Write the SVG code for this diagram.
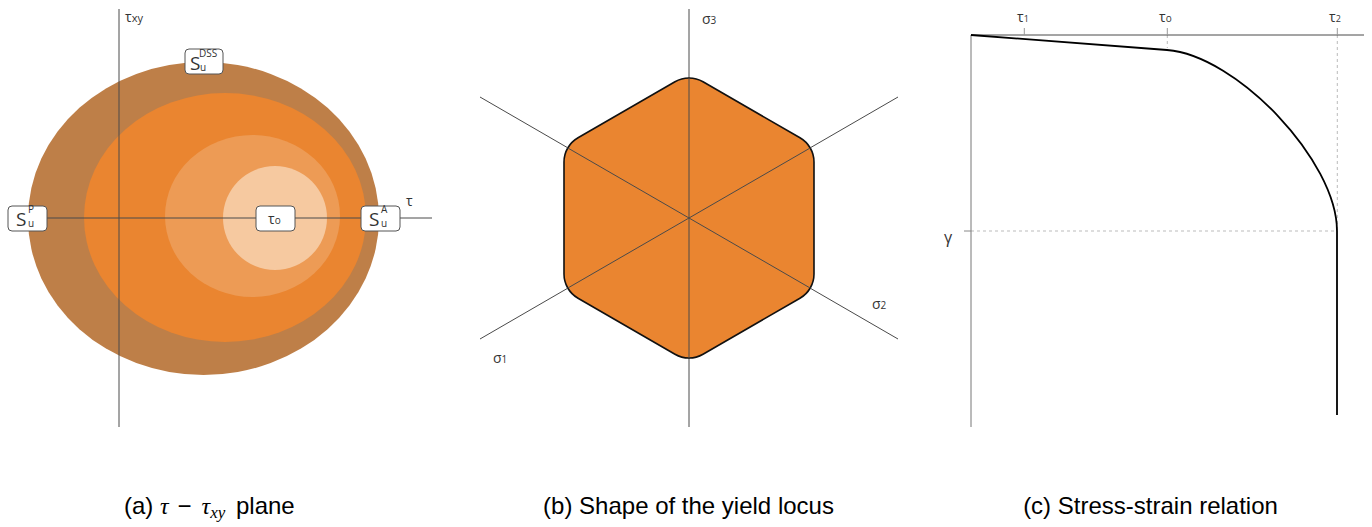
<svg xmlns="http://www.w3.org/2000/svg" width="1372" height="527" viewBox="0 0 1372 527">
<style>
.ax{stroke:#4a4a4a;stroke-width:1;fill:none}
.lbl{font-family:"Open Sans","DejaVu Sans",sans-serif;font-size:14px;fill:#333}
.S{font-family:"Open Sans","DejaVu Sans",sans-serif;font-size:19px;fill:#333}
.sm{font-family:"Open Sans","DejaVu Sans",sans-serif;font-size:10px;fill:#333}
.box{fill:#fff;stroke:#555;stroke-width:1}
.cap{font-family:"Liberation Sans",Arial,sans-serif;font-size:24px;fill:#000}
.math{font-family:"Liberation Serif","DejaVu Serif",serif;font-style:italic}
.dot{stroke:#bbb;stroke-width:1;stroke-dasharray:3 3;fill:none}
</style>
<rect width="1372" height="527" fill="#fff"/>
<!-- Panel a -->
<g id="panel-a">
<ellipse cx="203.5" cy="218.5" rx="175.5" ry="156.5" fill="#BE7F48"/>
<ellipse cx="225" cy="217.5" rx="141" ry="124.5" fill="#EA8530"/>
<ellipse cx="252.5" cy="216" rx="87.5" ry="81" fill="#ED9B55"/>
<ellipse cx="275" cy="218" rx="52" ry="52" fill="#F6C9A0"/>
</g>
<g id="connectors">
<line class="ax" x1="119" y1="9" x2="119" y2="427"/>
<line class="ax" x1="8" y1="218" x2="432" y2="218"/>
<line class="ax" x1="689" y1="9" x2="689" y2="427"/>
<line class="ax" x1="480" y1="97" x2="898" y2="339"/>
<line class="ax" x1="480" y1="339" x2="898" y2="97"/>
</g>
<g id="label-txy"><text class="lbl" x="125" y="22">τ<tspan font-size="11">xy</tspan></text></g>
<g id="label-t"><text class="lbl" x="406" y="206">τ</text></g>
<g id="node-SuP"><rect class="box" x="8" y="206" width="39" height="25" rx="4"/><text class="S" x="16" y="226">S</text><text class="sm" x="28" y="213">P</text><text class="sm" x="28" y="227">u</text></g>
<g id="node-t0"><rect class="box" x="256" y="206" width="39" height="25" rx="4"/><text class="lbl" x="268" y="224">τ<tspan font-size="10">o</tspan></text></g>
<g id="node-SuA"><rect class="box" x="361" y="206" width="39" height="25" rx="4"/><text class="S" x="369" y="226">S</text><text class="sm" x="381" y="213">A</text><text class="sm" x="381" y="227">u</text></g>
<g id="node-SuDSS"><rect class="box" x="185" y="49" width="38" height="25" rx="4"/><text class="S" x="190" y="70">S</text><text class="sm" x="199" y="57">DSS</text><text class="sm" x="200" y="71">u</text></g>
<!-- Panel b -->
<g id="yield-locus">
<path d="M 674.97 81.8 A 28 28 0 0 1 703.03 81.8 L 799.97 137.75 A 28 28 0 0 1 814 162.05 L 814 273.95 A 28 28 0 0 1 799.97 298.25 L 703.03 354.2 A 28 28 0 0 1 674.97 354.2 L 578.03 298.25 A 28 28 0 0 1 564 273.95 L 564 162.05 A 28 28 0 0 1 578.03 137.75 Z" fill="#EA8530" stroke="#111" stroke-width="1.6"/>
<line class="ax" x1="689" y1="78" x2="689" y2="358"/>
<line class="ax" x1="567" y1="147.5" x2="811" y2="288.5"/>
<line class="ax" x1="567" y1="288.5" x2="811" y2="147.5"/>
</g>
<g id="label-s3"><text class="lbl" x="702" y="24">σ<tspan font-size="10">3</tspan></text></g>
<g id="label-s2"><text class="lbl" x="872" y="309">σ<tspan font-size="10">2</tspan></text></g>
<g id="label-s1"><text class="lbl" x="493" y="363">σ<tspan font-size="10">1</tspan></text></g>
<!-- Panel c -->
<g id="panel-c">
<line class="dot" x1="1167.3" y1="35" x2="1167.3" y2="48"/>
<line class="dot" x1="1337.3" y1="35" x2="1337.3" y2="231"/>
<line class="dot" x1="971" y1="231" x2="1337" y2="231"/>
<line x1="971" y1="35" x2="971" y2="427" stroke="#777" stroke-width="1"/>
<line class="ax" x1="971" y1="35" x2="1364" y2="35"/>
<line x1="1024.3" y1="28" x2="1024.3" y2="35" stroke="#999" stroke-width="1"/>
<line x1="1167.3" y1="28" x2="1167.3" y2="35" stroke="#999" stroke-width="1"/>
<line x1="1337.3" y1="28" x2="1337.3" y2="35" stroke="#999" stroke-width="1"/>
<line x1="964" y1="231" x2="971" y2="231" stroke="#888" stroke-width="1"/>
<path d="M 971 35 L 1167 50 C 1237 55.4 1337 161 1337 231 L 1337 415" fill="none" stroke="#000" stroke-width="1.8"/>
</g>
<g id="label-tau1"><text class="lbl" x="1017" y="22">τ<tspan font-size="9">1</tspan></text></g>
<g id="label-tau0"><text class="lbl" x="1159" y="22">τ<tspan font-size="10">o</tspan></text></g>
<g id="label-tau2"><text class="lbl" x="1329" y="22">τ<tspan font-size="9">2</tspan></text></g>
<g id="label-gamma"><text class="lbl" x="944" y="243" font-size="16" style="font-size:16px">γ</text></g>
<!-- Captions -->
<g id="captions">
<text class="cap" x="124" y="514">(a) <tspan class="math">τ</tspan><tspan dx="9">−</tspan><tspan class="math" dx="10">τ</tspan><tspan class="math" font-size="17" dy="4">xy</tspan><tspan dy="-4" dx="4"> plane</tspan></text>
<text class="cap" x="688.5" y="514" text-anchor="middle">(b) Shape of the yield locus</text>
<text class="cap" x="1150.5" y="514" text-anchor="middle">(c) Stress-strain relation</text>
</g>
</svg>
